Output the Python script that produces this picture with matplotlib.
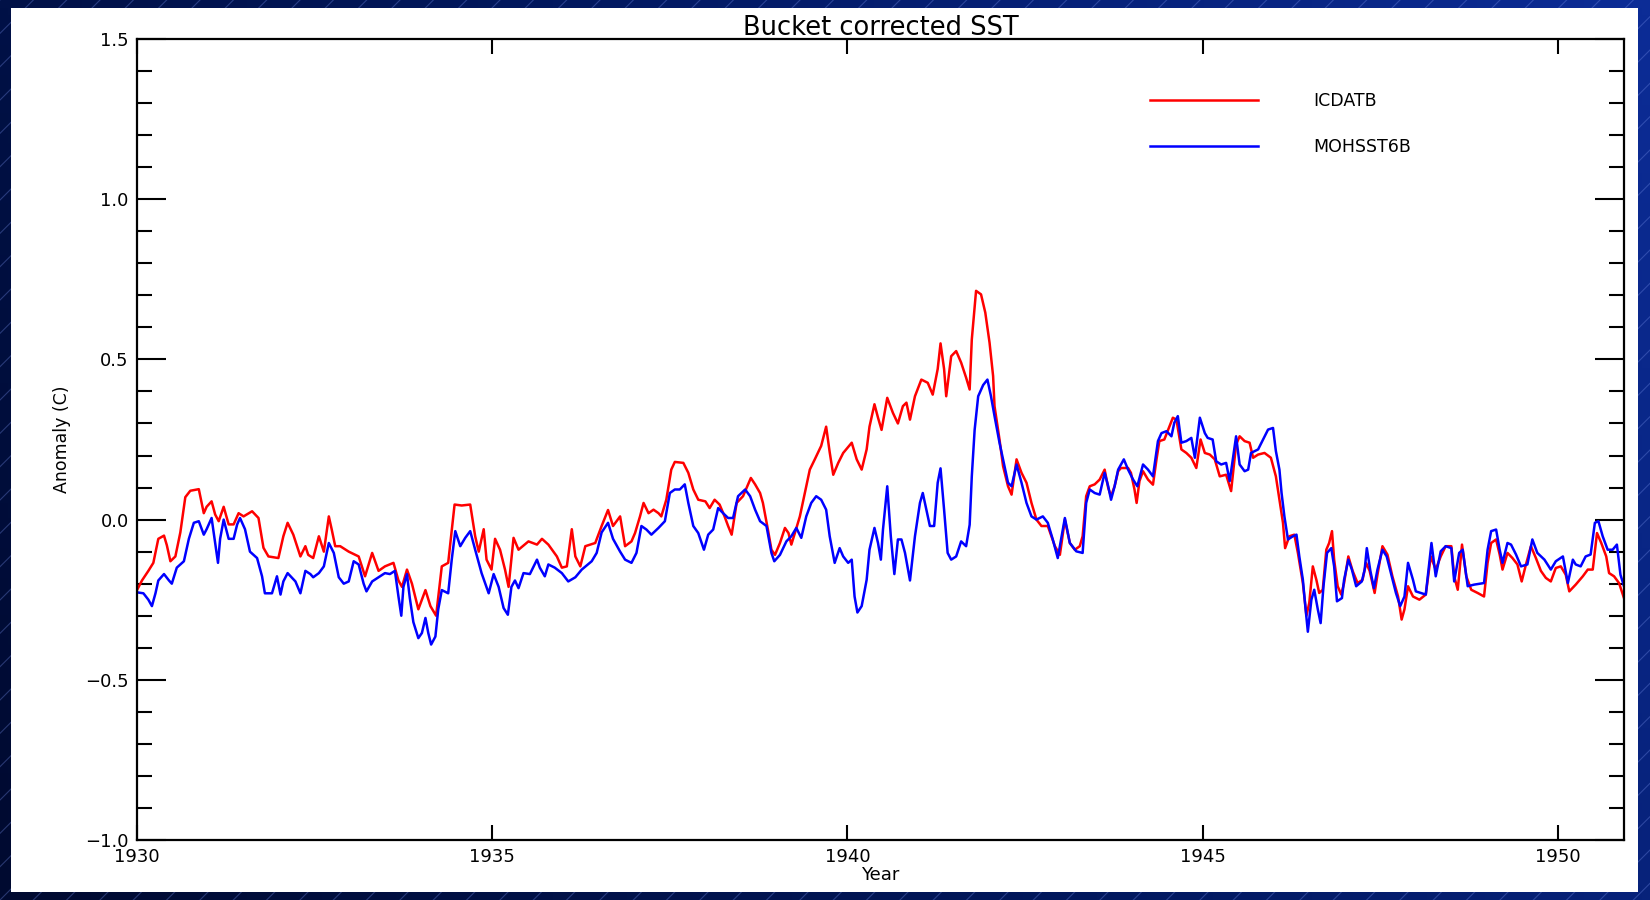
import numpy as np
import matplotlib
matplotlib.use('Agg')
import matplotlib.pyplot as plt
from matplotlib.colors import LinearSegmentedColormap
from matplotlib.patches import Rectangle
from matplotlib.ticker import MultipleLocator

# ICDATB (red), values
years_icdatb = [
    1930.00, 1930.07, 1930.16, 1930.23, 1930.30, 1930.38, 1930.42, 1930.47, 1930.54, 1930.61,
    1930.68, 1930.75, 1930.87, 1930.94, 1930.98, 1931.05, 1931.10, 1931.15, 1931.22, 1931.29,
    1931.36, 1931.43, 1931.50, 1931.62, 1931.71, 1931.78, 1931.85, 1931.99, 1932.06, 1932.12,
    1932.20, 1932.30, 1932.37, 1932.41, 1932.48, 1932.56, 1932.63, 1932.70, 1932.74, 1932.79,
    1932.86, 1932.98, 1933.12, 1933.21, 1933.31, 1933.40, 1933.49, 1933.61, 1933.68, 1933.73,
    1933.80, 1933.87, 1933.96, 1934.06, 1934.13, 1934.21, 1934.29, 1934.38, 1934.47, 1934.57,
    1934.69, 1934.76, 1934.81, 1934.88, 1934.92, 1934.99, 1935.04, 1935.11, 1935.18, 1935.23,
    1935.30, 1935.37, 1935.51, 1935.63, 1935.70, 1935.79, 1935.91, 1935.98, 1936.05, 1936.12,
    1936.17, 1936.24, 1936.31, 1936.45, 1936.54, 1936.63, 1936.70, 1936.80, 1936.87, 1936.96,
    1937.01, 1937.08, 1937.13, 1937.20, 1937.27, 1937.34, 1937.38, 1937.45, 1937.52, 1937.57,
    1937.69, 1937.76, 1937.83, 1937.90, 1938.00, 1938.06, 1938.13, 1938.20, 1938.27, 1938.32,
    1938.37, 1938.44, 1938.53, 1938.59, 1938.64, 1938.70, 1938.77, 1938.81, 1938.88, 1938.93,
    1938.98, 1939.05, 1939.12, 1939.17, 1939.21, 1939.26, 1939.33, 1939.40, 1939.47, 1939.54,
    1939.63, 1939.70, 1939.75, 1939.80, 1939.87, 1939.94, 1940.06, 1940.13, 1940.20, 1940.27,
    1940.31, 1940.38, 1940.43, 1940.48, 1940.56, 1940.64, 1940.71, 1940.78, 1940.83, 1940.88,
    1940.95, 1941.04, 1941.13, 1941.20, 1941.27, 1941.31, 1941.36, 1941.39, 1941.46, 1941.53,
    1941.60, 1941.67, 1941.72, 1941.75, 1941.81, 1941.88, 1941.94, 1942.00, 1942.05, 1942.07,
    1942.14, 1942.19, 1942.26, 1942.31, 1942.38, 1942.45, 1942.52, 1942.59, 1942.66, 1942.73,
    1942.82, 1942.92, 1942.99, 1943.06, 1943.13, 1943.20, 1943.27, 1943.31, 1943.36, 1943.41,
    1943.48, 1943.55, 1943.62, 1943.67, 1943.71, 1943.76, 1943.81, 1943.85, 1943.95, 1943.99,
    1944.04, 1944.07, 1944.11, 1944.16, 1944.23, 1944.30, 1944.35, 1944.39, 1944.46, 1944.53,
    1944.58, 1944.63, 1944.70, 1944.77, 1944.84, 1944.91, 1944.97, 1945.03, 1945.10, 1945.17,
    1945.24, 1945.33, 1945.40, 1945.47, 1945.52, 1945.59, 1945.66, 1945.71, 1945.78, 1945.87,
    1945.96, 1946.03, 1946.08, 1946.13, 1946.16, 1946.22, 1946.29, 1946.34, 1946.41, 1946.46,
    1946.50, 1946.55, 1946.60, 1946.64, 1946.69, 1946.74, 1946.78, 1946.82, 1946.85, 1946.90,
    1946.95, 1946.99, 1947.05, 1947.11, 1947.18, 1947.25, 1947.30, 1947.35, 1947.42, 1947.46,
    1947.53, 1947.60, 1947.67, 1947.75, 1947.80, 1947.84, 1947.89, 1947.96, 1948.05, 1948.14,
    1948.21, 1948.28, 1948.35, 1948.42, 1948.50, 1948.54, 1948.59, 1948.65, 1948.71, 1948.78,
    1948.87, 1948.96, 1949.01, 1949.06, 1949.13, 1949.18, 1949.22, 1949.29, 1949.36, 1949.43,
    1949.49, 1949.55, 1949.62, 1949.69, 1949.76, 1949.83, 1949.90, 1949.97, 1950.04, 1950.11,
    1950.16, 1950.25, 1950.35, 1950.42, 1950.49, 1950.55, 1950.61, 1950.68, 1950.72, 1950.79,
    1950.86, 1950.93,
]
icdatb = [
    -0.22, -0.19, -0.16, -0.135, -0.06, -0.05, -0.08, -0.13, -0.115, -0.04,
    0.07, 0.09, 0.095, 0.02, 0.04, 0.057, 0.016, -0.005, 0.04, -0.015,
    -0.015, 0.02, 0.01, 0.026, 0.005, -0.088, -0.115, -0.12, -0.052, -0.01,
    -0.047, -0.115, -0.083, -0.11, -0.12, -0.052, -0.10, 0.01, -0.03, -0.083,
    -0.083, -0.10, -0.115, -0.177, -0.104, -0.16, -0.146, -0.135, -0.19, -0.21,
    -0.156, -0.20, -0.28, -0.22, -0.27, -0.30, -0.146, -0.135, 0.047, 0.044,
    0.047, -0.052, -0.10, -0.03, -0.125, -0.156, -0.06, -0.094, -0.156, -0.21,
    -0.057, -0.094, -0.068, -0.078, -0.06, -0.078, -0.115, -0.15, -0.146, -0.03,
    -0.115, -0.146, -0.083, -0.073, -0.02, 0.03, -0.02, 0.01, -0.083, -0.068,
    -0.042, 0.01, 0.052, 0.02, 0.031, 0.02, 0.01, 0.062, 0.156, 0.18,
    0.177, 0.146, 0.094, 0.062, 0.057, 0.036, 0.062, 0.047, 0.01, -0.02,
    -0.047, 0.052, 0.073, 0.104, 0.13, 0.11, 0.083, 0.052, -0.031, -0.094,
    -0.11, -0.073, -0.026, -0.042, -0.078, -0.042, 0.01, 0.083, 0.156, 0.188,
    0.23, 0.29, 0.21, 0.14, 0.177, 0.208, 0.24, 0.188, 0.156, 0.219,
    0.29, 0.36, 0.318, 0.28, 0.38, 0.333, 0.30, 0.354, 0.365, 0.312,
    0.385, 0.437, 0.427, 0.39, 0.47, 0.55, 0.47, 0.385, 0.51, 0.526,
    0.49, 0.443, 0.406, 0.562, 0.714, 0.703, 0.646, 0.552, 0.448, 0.354,
    0.25, 0.167, 0.104, 0.078, 0.188, 0.146, 0.115, 0.052, 0.0, -0.02,
    -0.02, -0.083, -0.11, 0.0, -0.073, -0.094, -0.083, -0.052, 0.073, 0.104,
    0.11, 0.125, 0.156, 0.099, 0.073, 0.104, 0.151, 0.161, 0.161, 0.146,
    0.094, 0.052, 0.12, 0.151, 0.125, 0.109, 0.188, 0.245, 0.25, 0.29,
    0.318, 0.312, 0.219, 0.208, 0.193, 0.161, 0.25, 0.208, 0.203, 0.188,
    0.135, 0.14, 0.089, 0.234, 0.26, 0.245, 0.24, 0.193, 0.203, 0.208,
    0.193, 0.135, 0.062, -0.01, -0.089, -0.052, -0.047, -0.104, -0.198, -0.30,
    -0.26, -0.146, -0.188, -0.229, -0.219, -0.094, -0.073, -0.036, -0.125, -0.208,
    -0.234, -0.198, -0.115, -0.16, -0.198, -0.188, -0.135, -0.16, -0.229, -0.172,
    -0.083, -0.109, -0.177, -0.24, -0.312, -0.28, -0.208, -0.24, -0.25, -0.234,
    -0.115, -0.156, -0.115, -0.083, -0.083, -0.177, -0.219, -0.078, -0.177, -0.219,
    -0.229, -0.24, -0.135, -0.073, -0.062, -0.109, -0.156, -0.104, -0.12, -0.14,
    -0.193, -0.14, -0.083, -0.12, -0.16, -0.182, -0.193, -0.151, -0.146, -0.172,
    -0.224, -0.203, -0.177, -0.156, -0.156, -0.042, -0.073, -0.115, -0.167, -0.177,
    -0.198, -0.245,
]

# MOHSST6B (blue)
years_mohsst = [
    1930.00, 1930.09, 1930.16, 1930.21, 1930.26, 1930.30, 1930.38, 1930.45, 1930.49, 1930.56,
    1930.66, 1930.73, 1930.80, 1930.87, 1930.94, 1930.98, 1931.05, 1931.10, 1931.14, 1931.17,
    1931.22, 1931.29, 1931.36, 1931.41, 1931.45, 1931.52, 1931.59, 1931.69, 1931.76, 1931.80,
    1931.90, 1931.97, 1932.02, 1932.06, 1932.12, 1932.23, 1932.30, 1932.37, 1932.44, 1932.48,
    1932.56, 1932.63, 1932.70, 1932.77, 1932.84, 1932.91, 1932.98, 1933.05, 1933.12, 1933.19,
    1933.23, 1933.31, 1933.42, 1933.49, 1933.56, 1933.63, 1933.68, 1933.72, 1933.75, 1933.80,
    1933.84, 1933.89, 1933.96, 1934.01, 1934.06, 1934.10, 1934.14, 1934.20, 1934.24, 1934.29,
    1934.38, 1934.43, 1934.48, 1934.55, 1934.62, 1934.69, 1934.76, 1934.85, 1934.95, 1935.02,
    1935.09, 1935.16, 1935.22, 1935.27, 1935.32, 1935.37, 1935.44, 1935.53, 1935.63, 1935.67,
    1935.74, 1935.79, 1935.88, 1935.98, 1936.07, 1936.17, 1936.26, 1936.40, 1936.47, 1936.54,
    1936.63, 1936.70, 1936.80, 1936.87, 1936.96, 1937.03, 1937.10, 1937.17, 1937.24, 1937.34,
    1937.43, 1937.50, 1937.57, 1937.64, 1937.71, 1937.76, 1937.83, 1937.90, 1937.98, 1938.04,
    1938.11, 1938.18, 1938.25, 1938.32, 1938.39, 1938.46, 1938.56, 1938.63, 1938.70, 1938.77,
    1938.86, 1938.93, 1938.97, 1939.05, 1939.14, 1939.21, 1939.28, 1939.35, 1939.42, 1939.49,
    1939.56, 1939.63, 1939.70, 1939.75, 1939.82, 1939.89, 1939.94, 1940.01, 1940.06, 1940.10,
    1940.14, 1940.20, 1940.27, 1940.31, 1940.38, 1940.43, 1940.47, 1940.50, 1940.56, 1940.61,
    1940.66, 1940.71, 1940.76, 1940.81, 1940.88, 1940.95, 1941.02, 1941.06, 1941.11, 1941.16,
    1941.22, 1941.27, 1941.31, 1941.36, 1941.41, 1941.46, 1941.53, 1941.60, 1941.67, 1941.72,
    1941.75, 1941.79, 1941.84, 1941.91, 1941.97, 1942.02, 1942.07, 1942.14, 1942.19, 1942.26,
    1942.31, 1942.38, 1942.45, 1942.52, 1942.59, 1942.66, 1942.75, 1942.82, 1942.89, 1942.96,
    1943.06, 1943.13, 1943.22, 1943.31, 1943.36, 1943.41, 1943.48, 1943.55, 1943.62, 1943.67,
    1943.71, 1943.76, 1943.81, 1943.89, 1943.95, 1944.02, 1944.08, 1944.16, 1944.23, 1944.30,
    1944.37, 1944.42, 1944.49, 1944.56, 1944.60, 1944.65, 1944.70, 1944.77, 1944.84, 1944.89,
    1944.96, 1945.03, 1945.07, 1945.14, 1945.19, 1945.26, 1945.33, 1945.38, 1945.47, 1945.52,
    1945.59, 1945.64, 1945.68, 1945.78, 1945.85, 1945.92, 1945.99, 1946.03, 1946.08, 1946.11,
    1946.15, 1946.20, 1946.27, 1946.32, 1946.36, 1946.41, 1946.44, 1946.48, 1946.53, 1946.57,
    1946.62, 1946.66, 1946.70, 1946.75, 1946.81, 1946.85, 1946.89, 1946.96, 1946.99, 1947.05,
    1947.10, 1947.16, 1947.24, 1947.28, 1947.31, 1947.36, 1947.41, 1947.46, 1947.53, 1947.59,
    1947.66, 1947.72, 1947.78, 1947.84, 1947.89, 1947.96, 1948.00, 1948.14, 1948.19, 1948.22,
    1948.28, 1948.35, 1948.42, 1948.50, 1948.54, 1948.61, 1948.66, 1948.73, 1948.82, 1948.96,
    1949.01, 1949.06, 1949.13, 1949.18, 1949.22, 1949.29, 1949.34, 1949.41, 1949.48, 1949.57,
    1949.64, 1949.71, 1949.81, 1949.90, 1949.97, 1950.07, 1950.14, 1950.21, 1950.25, 1950.32,
    1950.39, 1950.46, 1950.52, 1950.57, 1950.63, 1950.70, 1950.77, 1950.83, 1950.88, 1950.93,
]
mohsst = [
    -0.227, -0.23, -0.25, -0.27, -0.23, -0.19, -0.17, -0.19, -0.20, -0.15,
    -0.13, -0.06, -0.01, -0.005, -0.047, -0.03, 0.005, -0.073, -0.135, -0.06,
    0.0, -0.06, -0.06, -0.015, 0.005, -0.03, -0.10, -0.12, -0.177, -0.23,
    -0.23, -0.177, -0.234, -0.193, -0.167, -0.193, -0.23, -0.16, -0.17, -0.18,
    -0.167, -0.146, -0.073, -0.104, -0.18, -0.20, -0.193, -0.13, -0.14, -0.20,
    -0.224, -0.193, -0.177, -0.167, -0.17, -0.16, -0.24, -0.30, -0.21, -0.17,
    -0.245, -0.32, -0.37, -0.354, -0.307, -0.354, -0.39, -0.365, -0.28, -0.22,
    -0.23, -0.125, -0.036, -0.083, -0.057, -0.036, -0.094, -0.167, -0.23, -0.17,
    -0.21, -0.276, -0.297, -0.21, -0.19, -0.214, -0.167, -0.17, -0.125, -0.15,
    -0.177, -0.14, -0.15, -0.167, -0.193, -0.18, -0.156, -0.13, -0.104, -0.04,
    -0.01, -0.06, -0.10, -0.125, -0.135, -0.104, -0.02, -0.031, -0.047, -0.026,
    -0.005, 0.083, 0.094, 0.094, 0.11, 0.052, -0.02, -0.042, -0.094, -0.047,
    -0.031, 0.036, 0.02, 0.005, 0.005, 0.073, 0.094, 0.073, 0.031, -0.005,
    -0.02, -0.104, -0.13, -0.11, -0.068, -0.052, -0.026, -0.057, 0.01, 0.052,
    0.073, 0.062, 0.031, -0.052, -0.135, -0.089, -0.115, -0.135, -0.125, -0.24,
    -0.29, -0.27, -0.188, -0.094, -0.026, -0.073, -0.125, -0.031, 0.104, -0.052,
    -0.17, -0.062, -0.062, -0.104, -0.19, -0.052, 0.052, 0.083, 0.031, -0.02,
    -0.02, 0.115, 0.16, 0.031, -0.104, -0.125, -0.115, -0.068, -0.083, -0.016,
    0.135, 0.28, 0.385, 0.42, 0.437, 0.385, 0.323, 0.24, 0.188, 0.115,
    0.104, 0.172, 0.115, 0.052, 0.01, 0.0, 0.01, -0.01, -0.062, -0.12,
    0.005, -0.073, -0.099, -0.104, 0.052, 0.094, 0.083, 0.078, 0.146, 0.104,
    0.062, 0.104, 0.156, 0.188, 0.156, 0.125, 0.104, 0.172, 0.156, 0.135,
    0.245, 0.27, 0.276, 0.26, 0.302, 0.323, 0.24, 0.245, 0.255, 0.193,
    0.318, 0.27, 0.255, 0.25, 0.182, 0.172, 0.177, 0.12, 0.26, 0.172,
    0.151, 0.156, 0.208, 0.219, 0.25, 0.281, 0.286, 0.214, 0.156, 0.083,
    0.01, -0.062, -0.052, -0.047, -0.115, -0.188, -0.26, -0.35, -0.25, -0.219,
    -0.28, -0.323, -0.208, -0.104, -0.089, -0.146, -0.255, -0.245, -0.188, -0.125,
    -0.156, -0.208, -0.193, -0.156, -0.089, -0.16, -0.214, -0.156, -0.094, -0.115,
    -0.177, -0.229, -0.27, -0.24, -0.135, -0.188, -0.224, -0.234, -0.135, -0.073,
    -0.177, -0.099, -0.083, -0.089, -0.193, -0.104, -0.094, -0.208, -0.203, -0.198,
    -0.094, -0.036, -0.031, -0.094, -0.135, -0.073, -0.078, -0.109, -0.146, -0.14,
    -0.062, -0.104, -0.125, -0.156, -0.13, -0.115, -0.198, -0.125, -0.14, -0.146,
    -0.115, -0.109, -0.01, -0.005, -0.052, -0.094, -0.094, -0.078, -0.172, -0.208,
]

fig = plt.figure(figsize=(16.5, 9), dpi=100)

# dark blue striped backdrop with white panel
bg = fig.add_axes([0, 0, 1, 1], zorder=0)
bg.set_axis_off()
gx, gy = np.meshgrid(np.linspace(0, 1, 200), np.linspace(0, 1, 120))
grad = 0.75 * gx + 0.25 * gy
cmap_bg = LinearSegmentedColormap.from_list('bg', ['#000a30', '#02185e', '#0c2c96'])
bg.imshow(grad, extent=[0, 1, 0, 1], origin='lower', cmap=cmap_bg, aspect='auto')
plt.rcParams['hatch.linewidth'] = 0.8
bg.add_patch(Rectangle((0, 0), 1, 1, transform=bg.transAxes, facecolor='none',
                       edgecolor=(0.45, 0.55, 0.9, 0.35), hatch='/', linewidth=0))
bg.add_patch(Rectangle((11 / 1650, 8 / 900), 1627 / 1650, 884 / 900,
                       transform=bg.transAxes, facecolor='white', edgecolor='none'))
bg.set_xlim(0, 1)
bg.set_ylim(0, 1)

ax = fig.add_axes([137 / 1650, 60 / 900, 1487 / 1650, 801 / 900], zorder=2)
ax.patch.set_alpha(0)
ax.plot(years_icdatb, icdatb, color='#ff0000', lw=1.8, label='ICDATB')
ax.plot(years_mohsst, mohsst, color='#0000ff', lw=1.8, label='MOHSST6B')

ax.set_xlim(1930, 1950.93)
ax.set_ylim(-1.0, 1.5)
ax.set_xticks([1930, 1935, 1940, 1945, 1950])
ax.yaxis.set_major_locator(MultipleLocator(0.5))
ax.yaxis.set_minor_locator(MultipleLocator(0.1))
ax.yaxis.set_major_formatter(plt.FuncFormatter(lambda v, p: f'{v:.1f}'.replace('-', '\u2212')))
ax.tick_params(axis='x', which='major', direction='in', top=True, length=11, width=1.5,
               labelsize=13, pad=6)
ax.tick_params(axis='y', which='major', direction='in', right=True, length=21, width=1.5,
               labelsize=13, pad=6)
ax.tick_params(axis='y', which='minor', direction='in', right=True, length=11, width=1.5)
for s in ax.spines.values():
    s.set_linewidth(1.6)

ax.set_title('Bucket corrected SST', fontsize=18.5, pad=3)
ax.set_xlabel('Year', fontsize=13, labelpad=0)
ax.set_ylabel('Anomaly (C)', fontsize=12.5, labelpad=10)

ax.legend(loc='upper left', bbox_to_anchor=(0.6815, 0.934), frameon=False, fontsize=12.5,
          handlelength=6.2, handletextpad=3.2, labelspacing=1.6, borderpad=0,
          borderaxespad=0)

fig.savefig('out.png', dpi=100)
